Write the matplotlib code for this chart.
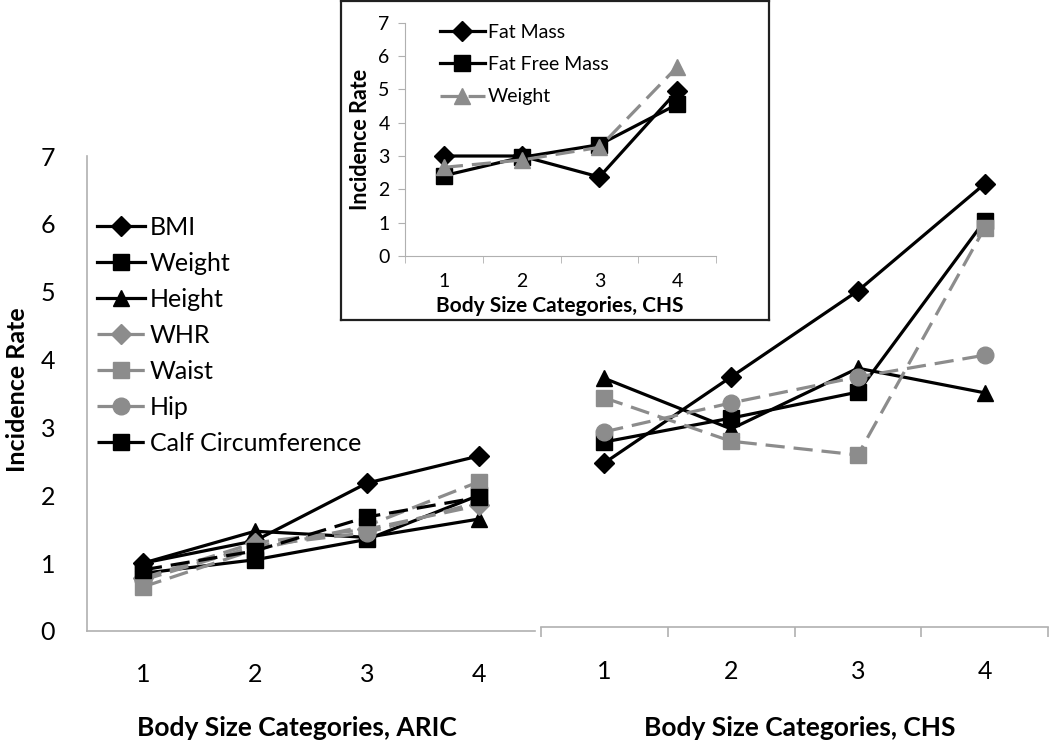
import matplotlib

matplotlib.use("Agg")
import matplotlib.pyplot as plt
import numpy as np

plt.rcParams["font.family"] = ["Lato", "DejaVu Sans"]

# categories (quartiles of body size)
categories = [1, 2, 3, 4]

# ARIC incidence rates (left panel)
aric_bmi = [1.00, 1.33, 2.18, 2.58]
aric_weight = [0.85, 1.05, 1.35, 2.00]
aric_height = [1.00, 1.47, 1.38, 1.65]
aric_whr = [0.78, 1.30, 1.50, 1.85]
aric_waist = [0.65, 1.20, 1.55, 2.20]
aric_hip = [0.75, 1.25, 1.45, 1.90]
aric_calf = [0.90, 1.18, 1.68, 1.97]

# CHS incidence rates (right panel)
chs_bmi = [2.27, 3.46, 4.65, 6.13]
chs_weight = [2.56, 2.89, 3.25, 5.62]
chs_height = [3.44, 2.74, 3.58, 3.24]
chs_waist = [3.17, 2.57, 2.38, 5.52]
chs_hip = [2.70, 3.10, 3.46, 3.76]

# CHS inset: body composition
inset_fat_mass = [3.00, 3.00, 2.37, 4.95]
inset_fat_free = [2.41, 2.96, 3.34, 4.55]
inset_weight = [2.66, 2.88, 3.26, 5.67]

BLACK = "#000000"
GREY = "#8c8c8c"
AXIS = "#b0b0b0"
LW = 2.3
DASH = (0, (6, 2.8))

W, H = 1050, 744


def rect(x0, y0, x1, y1):
    """pixel box (top-left origin) -> figure fraction rect"""
    return [x0 / W, (H - y1) / H, (x1 - x0) / W, (y1 - y0) / H]


def style_series(ax, x, y, marker, color, dashed, ms, label=None):
    ax.plot(
        x, y,
        color=color,
        lw=LW,
        linestyle=DASH if dashed else "-",
        marker=marker,
        markersize=ms,
        markerfacecolor=color,
        markeredgecolor=color,
        label=label,
        clip_on=False,
    )


fig = plt.figure(figsize=(10.5, 7.44), dpi=100)

# ---- left panel (ARIC) ----
ax_l = fig.add_axes(rect(87, 156, 535, 631))
series_l = [
    ("BMI", aric_bmi, "D", BLACK, False, 10),
    ("Weight", aric_weight, "s", BLACK, False, 12),
    ("Height", aric_height, "^", BLACK, False, 12),
    ("WHR", aric_whr, "D", GREY, True, 10),
    ("Waist", aric_waist, "s", GREY, True, 12),
    ("Hip", aric_hip, "o", GREY, True, 12),
    ("Calf Circumference", aric_calf, "s", BLACK, True, 12),
]
for name, vals, mk, col, dashed, ms in series_l:
    style_series(ax_l, categories, vals, mk, col, dashed, ms, label=name)

ax_l.set_xlim(0.5, 4.5)
ax_l.set_ylim(0, 7)
ax_l.set_xticks(categories)
ax_l.set_yticks(range(8))
ax_l.tick_params(axis="both", length=0, labelsize=18)
ax_l.tick_params(axis="y", pad=23)
ax_l.tick_params(axis="x", pad=23)
for s in ["top", "right"]:
    ax_l.spines[s].set_visible(False)
for s in ["left", "bottom"]:
    ax_l.spines[s].set_color(AXIS)
    ax_l.spines[s].set_linewidth(1.2)

ax_l.legend(
    loc="upper left",
    bbox_to_anchor=(97 / W, (H - 216) / H),
    bbox_transform=fig.transFigure,
    frameon=False,
    fontsize=18,
    handlelength=1.9,
    handletextpad=0.2,
    labelspacing=0.52,
    numpoints=1,
    borderpad=0,
    borderaxespad=0,
)

# ---- right panel (CHS) ----
ax_r = fig.add_axes(rect(541, 121, 1048, 627))
series_r = [
    (chs_bmi, "D", BLACK, False, 10),
    (chs_weight, "s", BLACK, False, 12),
    (chs_height, "^", BLACK, False, 12),
    (chs_waist, "s", GREY, True, 12),
    (chs_hip, "o", GREY, True, 12),
]
for vals, mk, col, dashed, ms in series_r:
    style_series(ax_r, categories, vals, mk, col, dashed, ms)

ax_r.set_xlim(0.5, 4.5)
ax_r.set_ylim(0, 7)
ax_r.set_facecolor("none")
ax_r.set_yticks([])
ax_r.set_xticks(categories)
ax_r.set_xticks(np.arange(0.5, 4.6, 1.0), minor=True)
ax_r.tick_params(axis="x", which="major", length=0, labelsize=18, pad=24)
ax_r.tick_params(axis="x", which="minor", length=7.5, color=AXIS, width=1.2)
for s in ["top", "right", "left"]:
    ax_r.spines[s].set_visible(False)
ax_r.spines["bottom"].set_color(AXIS)
ax_r.spines["bottom"].set_linewidth(1.2)

# axis titles of the two main panels
fig.text(297 / W, (H - 728) / H, "Body Size Categories, ARIC", fontsize=19,
         fontweight="bold", ha="center", va="center")
fig.text(800 / W, (H - 728) / H, "Body Size Categories, CHS", fontsize=19,
         fontweight="bold", ha="center", va="center")
fig.text(18 / W, (H - 390) / H, "Incidence Rate", rotation=90, fontsize=18,
         fontweight="bold", ha="center", va="center")

# ---- inset (CHS body composition) ----
ax_frame = fig.add_axes(rect(341, 1, 769, 320))
ax_frame.set_xticks([])
ax_frame.set_yticks([])
ax_frame.set_facecolor("white")
for s in ax_frame.spines.values():
    s.set_color("#202020")
    s.set_linewidth(1.6)
ax_frame.set_zorder(2)

ax_i = fig.add_axes(rect(405, 22.7, 716, 256))
ax_i.set_zorder(3)
ax_i.set_facecolor("none")
style_series(ax_i, categories, inset_fat_mass, "D", BLACK, False, 10, label="Fat Mass")
style_series(ax_i, categories, inset_fat_free, "s", BLACK, False, 12, label="Fat Free Mass")
style_series(ax_i, categories, inset_weight, "^", GREY, True, 12, label="Weight")
ax_i.set_xlim(0.5, 4.5)
ax_i.set_ylim(0, 7)
ax_i.set_yticks(range(8))
ax_i.set_xticks(categories)
ax_i.set_xticks(np.arange(0.5, 4.6, 1.0), minor=True)
ax_i.tick_params(axis="y", length=5, color=AXIS, labelsize=14, pad=6)
ax_i.tick_params(axis="x", which="major", length=0, labelsize=14, pad=12)
ax_i.tick_params(axis="x", which="minor", length=5, color=AXIS)
for s in ["top", "right"]:
    ax_i.spines[s].set_visible(False)
for s in ["left", "bottom"]:
    ax_i.spines[s].set_color(AXIS)
ax_i.set_ylabel("Incidence Rate", fontsize=15.5, fontweight="bold", labelpad=5)
fig.text(560 / W, (H - 306) / H, "Body Size Categories, CHS", fontsize=15,
         fontweight="bold", ha="center", va="center", zorder=4)
ax_i.legend(
    loc="upper left",
    bbox_to_anchor=(440 / W, (H - 24) / H),
    bbox_transform=fig.transFigure,
    frameon=False,
    fontsize=14,
    handlelength=2.3,
    handletextpad=0.15,
    labelspacing=0.78,
    numpoints=1,
    borderpad=0,
    borderaxespad=0,
)

fig.savefig("out.png", dpi=100, facecolor="white")
